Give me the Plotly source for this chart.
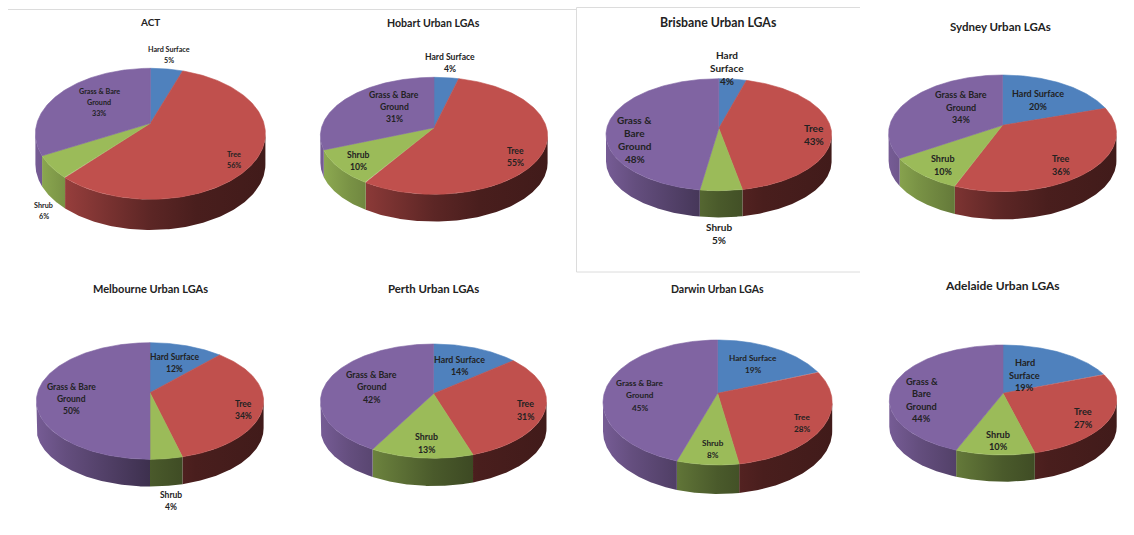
import numpy as np
import plotly.graph_objects as go

# ---------- data ----------
REGIONS = ["ACT", "Hobart Urban LGAs", "Brisbane Urban LGAs", "Sydney Urban LGAs",
           "Melbourne Urban LGAs", "Perth Urban LGAs", "Darwin Urban LGAs", "Adelaide Urban LGAs"]
CATEGORIES = ["Hard Surface", "Tree", "Shrub", "Grass & Bare Ground"]
# unrounded estimates read from slice edges; the labels show them rounded
HARD_SURFACE = [5.3, 4.0, 4.4, 20, 12, 14, 19, 19]
TREE = [56.2, 55, 42.6, 36, 34, 31, 28.4, 27]
SHRUB = [5.7, 10, 5.4, 10, 4, 13, 7.6, 10]
GRASS = [32.8, 31, 47.6, 34, 50, 42, 45, 44]

# ---------- layout of each pie: centre x, half width, apex y, top y, bottom y, depth ----------
GEOM = [
    (150.4, 115.0, 123.3, 68.3, 199.3, 30.7),
    (434.0, 113.6, 127.7, 77.3, 194.3, 27.3),
    (718.8, 112.8, 128.3, 78.7, 190.7, 26.7),
    (1002.5, 113.9, 125.3, 75.0, 191.7, 27.7),
    (150.0, 113.6, 392.7, 342.7, 459.3, 27.3),
    (433.5, 113.0, 393.7, 344.0, 458.3, 27.7),
    (717.6, 114.6, 393.3, 340.0, 465.0, 29.0),
    (1003.0, 113.7, 393.3, 345.0, 455.0, 26.7),
]
TITLE_POS = [(150, 22), (433.5, 23.3), (718.6, 22.7), (1000, 26.7),
             (150, 288), (433.5, 288.7), (717, 288.7), (1002.4, 285.7)]
TITLE_SIZE = [10, 10.6, 12.3, 11.5, 11, 11.4, 10.5, 12]
LABEL_POS = [  # hard, tree, shrub, grass
    [(169, 55), (233.5, 160), (43.6, 210.7), (99, 102)],
    [(450, 63), (515, 156.7), (358, 161), (394, 107)],
    [(726.5, 68), (813.5, 134), (718.6, 233.7), (634.7, 139)],
    [(1038.3, 100), (1060.6, 165), (942.7, 165), (960.6, 107)],
    [(174.5, 363), (243, 409.7), (170.5, 500.7), (71, 399)],
    [(459, 365.7), (525, 410), (426, 443), (371.6, 386.7)],
    [(752.7, 364), (802, 423), (712.8, 449), (639.8, 395.3)],
    [(1024.7, 375), (1083.3, 418), (998.4, 440.3), (921.8, 400)],
]
LABEL_SIZE = [7.2, 8.6, 10, 9, 8.5, 8.8, 8.2, 9.2]
LINE_GAP = [11, 11.7, 13, 12.5, 12, 12.3, 12.3, 12.6]
NARROW = {2, 7}  # pies whose labels wrap more tightly
COLORS = ["#4F81BD", "#C0504D", "#9BBB59", "#8064A2"]
FONT = "Lato"
TEXT = "#222222"
SIDE_STOPS = [(0, .92), (.13, .78), (.5, .48), (.7, .38), (1, .34)]


def shade(hex_color, f):
    r, g, b = (int(hex_color[i:i + 2], 16) for i in (1, 3, 5))
    return f"rgb({r * f:.0f},{g * f:.0f},{b * f:.0f})"


def project(theta, g):
    """Map clockwise-from-top angle on the disc to the page, with perspective."""
    cx, hw, y0, top, bot, _ = g
    up, down = y0 - top, bot - y0
    k = (down - up) / (down + up)
    b = up * (1 + k)
    a = hw * np.sqrt(1 - k * k)
    X, Y = np.sin(theta), np.cos(theta)
    w = 1 + k * Y
    return cx + a * X / w, y0 - b * Y / w, k


fig = go.Figure()
tops = []
for i, region in enumerate(REGIONS):
    g = GEOM[i]
    vals = [HARD_SURFACE[i], TREE[i], SHRUB[i], GRASS[i]]
    edges = np.cumsum([0] + vals) / sum(vals) * 2 * np.pi
    cx, hw, y0, _, _, depth = g
    k = project(0.0, g)[2]
    right = np.arccos(-k)
    left = 2 * np.pi - right
    for j, cat in enumerate(CATEGORIES):
        t0, t1 = edges[j], edges[j + 1]
        # side wall: only the part of the rim that faces the viewer
        s0, s1 = max(t0, right), min(t1, left)
        if s1 > s0:
            th = np.linspace(s0, s1, 120)
            px, py, _ = project(th, g)
            xs = np.concatenate([px, px[::-1], px[:1]])
            ys = np.concatenate([py, py[::-1] + depth, py[:1]])
            fig.add_trace(go.Scatter(
                x=xs, y=ys, mode="lines", line=dict(width=0), fill="toself",
                fillgradient=dict(type="horizontal", start=cx - hw, stop=cx + hw,
                                  colorscale=[[p, shade(COLORS[j], f)] for p, f in SIDE_STOPS]),
                hoverinfo="skip", showlegend=False))
        # top face, added after all side walls
        th = np.linspace(t0, t1, 160)
        px, py, _ = project(th, g)
        tops.append(go.Scatter(
            x=np.concatenate([[cx], px, [cx]]), y=np.concatenate([[y0], py, [y0]]),
            mode="lines", line=dict(width=0.6, color=COLORS[j]), fill="toself",
            fillcolor=COLORS[j], name=cat, text=f"{region}: {cat} {round(vals[j])}%",
            hoverinfo="text", showlegend=False))
for t in tops:
    fig.add_trace(t)

for i, region in enumerate(REGIONS):
    fig.add_annotation(x=TITLE_POS[i][0], y=TITLE_POS[i][1], text=f"<b>{region}</b>", showarrow=False,
                       xanchor="center", yanchor="middle",
                       font=dict(family=FONT, size=TITLE_SIZE[i], color=TEXT))
    vals = [HARD_SURFACE[i], TREE[i], SHRUB[i], GRASS[i]]
    for j, cat in enumerate(CATEGORIES):
        lines = [cat]
        if j == 0 and i in NARROW:
            lines = ["Hard", "Surface"]
        if j == 3:
            lines = ["Grass &", "Bare", "Ground"] if i in NARROW else ["Grass & Bare", "Ground"]
        lines = lines + [f"{round(vals[j])}%"]
        lx, ly = LABEL_POS[i][j]
        for n, line in enumerate(lines):
            fig.add_annotation(x=lx, y=ly + (n - (len(lines) - 1) / 2) * LINE_GAP[i], text=f"<b>{line}</b>",
                               showarrow=False, xanchor="center", yanchor="middle",
                               font=dict(family=FONT, size=LABEL_SIZE[i], color=TEXT))

GREY = dict(color="#dcdcdc", width=1)
for x0, y0_, x1, y1_ in [(8, 9.5, 576, 9.5), (576.5, 7.5, 860, 7.5), (576.5, 7.5, 576.5, 272), (576.5, 272, 860, 272)]:
    fig.add_shape(type="line", x0=x0, y0=y0_, x1=x1, y1=y1_, line=GREY, layer="below")

fig.update_layout(
    width=1134, height=535, margin=dict(l=0, r=0, t=0, b=0),
    paper_bgcolor="white", plot_bgcolor="white", showlegend=False,
    xaxis=dict(range=[0, 1134], visible=False, fixedrange=True),
    yaxis=dict(range=[535, 0], visible=False, fixedrange=True),
)
fig.write_html("out.html", config=dict(displayModeBar=False),
               post_script="document.body.style.margin='0';document.body.style.overflow='hidden';")
